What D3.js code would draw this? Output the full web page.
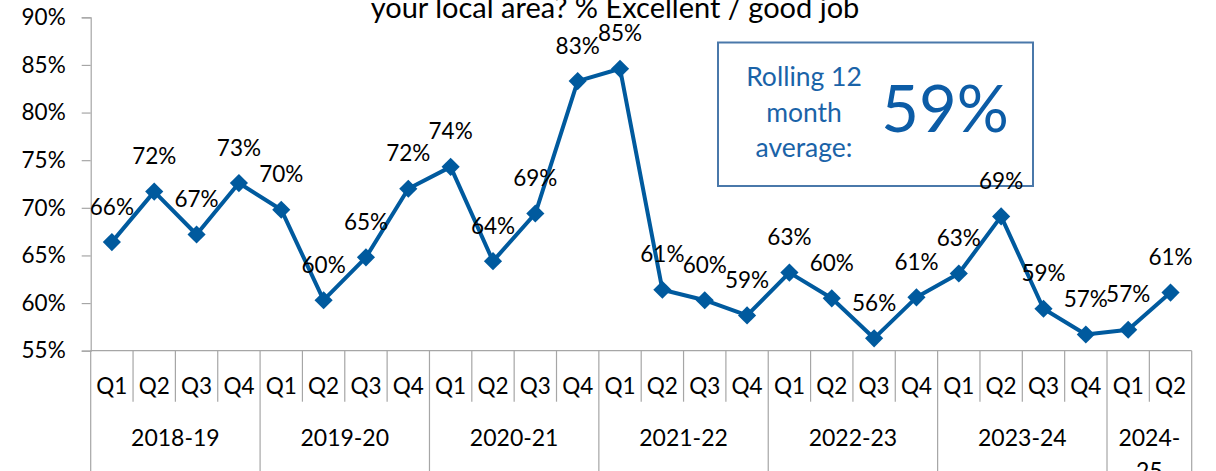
<!DOCTYPE html>
<html>
<head>
<meta charset="utf-8">
<script src="https://cdn.jsdelivr.net/npm/d3@7"></script>
<style>
  html, body { margin: 0; padding: 0; background: #ffffff; overflow: hidden; }
  svg { display: block; }
  text { font-family: Lato, "Open Sans", sans-serif; }
</style>
</head>
<body>
<svg id="chart" width="1216" height="471"></svg>
<script>
// ---- data ----
const years = ["2018-19", "2019-20", "2020-21", "2021-22", "2022-23", "2023-24", "2024-25"];
const quartersPerYear = [4, 4, 4, 4, 4, 4, 2];
const quarterLabels = ["Q1", "Q2", "Q3", "Q4", "Q1", "Q2", "Q3", "Q4", "Q1", "Q2", "Q3", "Q4",
                       "Q1", "Q2", "Q3", "Q4", "Q1", "Q2", "Q3", "Q4", "Q1", "Q2", "Q3", "Q4", "Q1", "Q2"];
const values = [66.4, 71.7, 67.2, 72.6, 69.8, 60.3, 64.8, 72.0, 74.3, 64.4, 69.4, 83.3,
                84.6, 61.4, 60.3, 58.7, 63.2, 60.5, 56.3, 60.6, 63.1, 69.1, 59.4, 56.7, 57.2, 61.1];
const valueLabels = ["66%", "72%", "67%", "73%", "70%", "60%", "65%", "72%", "74%", "64%", "69%", "83%",
                     "85%", "61%", "60%", "59%", "63%", "60%", "56%", "61%", "63%", "69%", "59%", "57%", "57%", "61%"];
const yTicks = [55, 60, 65, 70, 75, 80, 85, 90];
const titleText = "your local area? % Excellent / good job";
const boxLines = ["Rolling 12", "month", "average:"];
const boxValue = "59%";

// ---- layout ----
const svg = d3.select("#chart");
const plotL = 90.7, plotR = 1191.7, plotT = 17.3, plotB = 350.7;
const axisColor = "#a6a6a6";
const lineColor = "#005a9e";

const x = d3.scaleBand().domain(d3.range(values.length)).range([plotL, plotR]).padding(0);
const y = d3.scaleLinear().domain([55, 90]).range([plotB, plotT]);

// title (second line visible)
svg.append("text")
  .attr("x", 615).attr("y", 18)
  .attr("text-anchor", "middle")
  .attr("font-size", 29)
  .attr("fill", "#000")
  .text(titleText);

// rolling average box (drawn beneath the series)
const box = svg.append("g");
box.append("rect")
  .attr("x", 718).attr("y", 42.5).attr("width", 315).attr("height", 143.5)
  .attr("fill", "#fff").attr("stroke", "#4a78aa").attr("stroke-width", 2);
boxLines.forEach((t, j) => {
  box.append("text")
    .attr("x", 804).attr("y", 76 + j * 35.5)
    .attr("dominant-baseline", "central")
    .attr("text-anchor", "middle")
    .attr("font-size", 26.5)
    .attr("fill", "#1a63a8")
    .text(t);
});
box.append("text")
  .attr("x", 945).attr("y", 107)
  .attr("dominant-baseline", "central")
  .attr("text-anchor", "middle")
  .attr("font-size", 65)
  .attr("fill", "#0c5ca6")
  .text(boxValue);

// y axis
const yAxis = d3.axisLeft(y).tickValues(yTicks).tickSize(9).tickPadding(16)
  .tickFormat(d => d + "%");
const yg = svg.append("g").attr("transform", `translate(${plotL},0)`).call(yAxis);
yg.select(".domain").attr("stroke", axisColor).attr("stroke-width", 1.2);
yg.selectAll(".tick line").attr("stroke", axisColor).attr("stroke-width", 1.2);
yg.selectAll(".tick text").attr("font-size", 22.5).attr("fill", "#000")
  .attr("font-family", "Lato, sans-serif");

// x axis line
svg.append("line").attr("x1", plotL).attr("x2", plotR).attr("y1", plotB).attr("y2", plotB)
  .attr("stroke", axisColor).attr("stroke-width", 1.2);

// quarter separators and labels
const qSepBottom = 401.7;
const yearStarts = [];
let acc = 0;
quartersPerYear.forEach(n => { yearStarts.push(acc); acc += n; });
const yearStartSet = new Set(yearStarts.concat([values.length]));

d3.range(values.length + 1).forEach(i => {
  const xx = i < values.length ? x(i) : x(values.length - 1) + x.bandwidth();
  const isYear = yearStartSet.has(i);
  svg.append("line")
    .attr("x1", xx).attr("x2", xx)
    .attr("y1", plotB).attr("y2", isYear ? 480 : qSepBottom)
    .attr("stroke", axisColor).attr("stroke-width", 1.2);
});

svg.append("g").selectAll("text").data(quarterLabels).join("text")
  .attr("x", (d, i) => x(i) + x.bandwidth() / 2)
  .attr("y", 385.5)
  .attr("dominant-baseline", "central")
  .attr("text-anchor", "middle")
  .attr("font-size", 22.5)
  .attr("fill", "#000")
  .text(d => d);

// year labels
years.forEach((yr, k) => {
  const start = yearStarts[k];
  const n = quartersPerYear[k];
  const cx = x(start) + (x.bandwidth() * n) / 2;
  const width = x.bandwidth() * n;
  const t = svg.append("text")
    .attr("x", cx).attr("text-anchor", "middle")
    .attr("font-size", 23).attr("fill", "#000");
  if (width < 90) {
    const parts = [yr.slice(0, 5), yr.slice(5)];
    parts.forEach((p, j) => {
      t.append("tspan").attr("x", cx).attr("y", 436.7 + j * 33.4)
        .attr("dominant-baseline", "central").text(p);
    });
  } else {
    t.attr("y", 436.7).attr("dominant-baseline", "central").text(yr);
  }
});

// line
const line = d3.line().x((d, i) => x(i) + x.bandwidth() / 2).y(d => y(d));
svg.append("path").datum(values)
  .attr("d", line)
  .attr("fill", "none")
  .attr("stroke", lineColor)
  .attr("stroke-width", 4)
  .attr("stroke-linejoin", "round");

// markers (diamonds)
const sym = d3.symbol().type(d3.symbolSquare).size(165);
svg.append("g").selectAll("path").data(values).join("path")
  .attr("d", sym)
  .attr("transform", (d, i) => `translate(${x(i) + x.bandwidth() / 2},${y(d)}) rotate(45)`)
  .attr("fill", lineColor);

// data labels
svg.append("g").selectAll("text").data(values).join("text")
  .attr("x", (d, i) => x(i) + x.bandwidth() / 2)
  .attr("y", d => y(d) - 36)
  .attr("dominant-baseline", "central")
  .attr("text-anchor", "middle")
  .attr("font-size", 22.5)
  .attr("fill", "#000")
  .text((d, i) => valueLabels[i]);
</script>
</body>
</html>
